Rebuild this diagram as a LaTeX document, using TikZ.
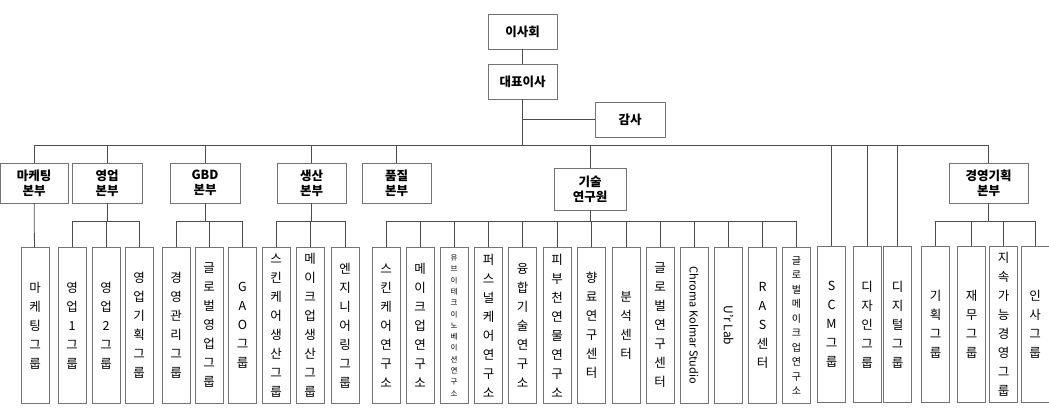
\documentclass[tikz,border=0pt]{standalone}
\usepackage{fontspec}
\setmainfont{Noto Sans CJK KR}
\begin{document}
\begin{tikzpicture}[x=1pt,y=-1pt,
  box/.style={draw=black!55,line width=0.8pt,fill=white,inner sep=0pt,align=center},
  topbox/.style={box,minimum width=69pt,minimum height=35pt,font=\fontsize{12.5}{14}\selectfont\bfseries},
  midbox/.style={box,minimum width=69pt,minimum height=40pt,font=\fontsize{12.5}{15}\selectfont\bfseries},
  leaf/.style={box,anchor=north,minimum width=28pt,minimum height=156pt,font=\fontsize{12.5}{19}\selectfont},
  small/.style={font=\fontsize{7.5}{11.3}\selectfont},
  med/.style={font=\fontsize{10}{14.5}\selectfont},
  con/.style={draw=black!70,line width=0.8pt}]
\useasboundingbox (0,0) rectangle (1049,407);
\node[topbox] (ish) at (522.5,31.5) {이사회};
\node[topbox] (ceo) at (522.5,81.5) {대표이사};
\node[topbox,minimum width=70pt] (aud) at (630,119.5) {감사};
\coordinate (m) at (522.5,145);
\node[midbox,minimum width=68pt] (mkt) at (34,183) {마케팅\\본부};
\node[midbox,minimum width=70pt] (sal) at (107,183) {영업\\본부};
\node[midbox,minimum width=70pt] (gbd) at (205,183) {GBD\\본부};
\node[midbox] (prd) at (311.5,183) {생산\\본부};
\node[midbox] (qual) at (396.5,183) {품질\\본부};
\node[midbox,minimum width=72pt,minimum height=42pt] (rnd) at (590,189) {기술\\연구원};
\node[midbox,minimum width=79pt] (gp) at (988.5,183) {경영기획\\본부};
% leaves
\node[leaf] (l1) at (35,247) {마\\케\\팅\\그\\룹};
\node[leaf] (l2) at (72,247) {영\\업\\1\\그\\룹};
\node[leaf] (l3) at (106,247) {영\\업\\2\\그\\룹};
\node[leaf] (l4) at (139,247) {영\\업\\기\\획\\그\\룹};
\node[leaf] (l5) at (176,247) {경\\영\\관\\리\\그\\룹};
\node[leaf] (l6) at (209,247) {글\\로\\벌\\영\\업\\그\\룹};
\node[leaf] (l7) at (242.5,247) {G\\A\\O\\그\\룹};
\node[leaf] (l8) at (276,247) {스\\킨\\케\\어\\생\\산\\그\\룹};
\node[leaf] (l9) at (310,247) {메\\이\\크\\업\\생\\산\\그\\룹};
\node[leaf] (l10) at (345,247) {엔\\지\\니\\어\\링\\그\\룹};
\node[leaf] (r1) at (386,247) {스\\킨\\케\\어\\연\\구\\소};
\node[leaf] (r2) at (420,247) {메\\이\\크\\업\\연\\구\\소};
\node[leaf,small] (r3) at (454,247) {유\\브\\이\\테\\크\\이\\노\\베\\이\\션\\연\\구\\소};
\node[leaf] (r4) at (488.5,247) {퍼\\스\\널\\케\\어\\연\\구\\소};
\node[leaf] (r5) at (522.5,247) {융\\합\\기\\술\\연\\구\\소};
\node[leaf] (r6) at (557,247) {피\\부\\천\\연\\물\\연\\구\\소};
\node[leaf] (r7) at (591.5,247) {향\\료\\연\\구\\센\\터};
\node[leaf] (r8) at (626,247) {분\\석\\센\\터};
\node[leaf] (r9) at (660,247) {글\\로\\벌\\연\\구\\센\\터};
\node[leaf] (r10) at (694,247) {};
\node[rotate=-90,font=\fontsize{11}{13}\selectfont] at (r10.center) {Chroma Kolmar Studio};
\node[leaf] (r11) at (728.5,247) {};
\node[rotate=-90,font=\fontsize{12}{14}\selectfont] at (r11.center) {U'r Lab};
\node[leaf] (r12) at (762.5,247) {R\\A\\S\\센\\터};
\node[leaf,med] (r13) at (796.5,247) {글\\로\\벌\\메\\이\\크\\업\\연\\구\\소};
\node[leaf] (scm) at (831.5,246) {S\\C\\M\\그\\룹};
\node[leaf] (des) at (867,246) {디\\자\\인\\그\\룹};
\node[leaf] (dig) at (897.5,246) {디\\지\\털\\그\\룹};
\node[leaf] (g1) at (935.5,246) {기\\획\\그\\룹};
\node[leaf] (g2) at (971.5,246) {재\\무\\그\\룹};
\node[leaf] (g3) at (1003.5,246) {지\\속\\가\\능\\경\\영\\그\\룹};
\node[leaf] (g4) at (1035,246) {인\\사\\그\\룹};
% connectors
\draw[con] (ish) -- (ceo);
\draw[con] (ceo) -- (m);
\draw[con] (ceo.south |- aud.west) -- (aud.west);
\draw[con] (mkt.north) -- (mkt.north |- m) -- (gp.north |- m) -- (gp.north);
\foreach \n in {sal,gbd,prd,qual,rnd,scm,des,dig} \draw[con] (\n.north) -- (\n.north |- m);
\draw[con] (mkt) -- (l1);
\coordinate (b) at (0,221);
\draw[con] (sal) -- (sal.south |- b);
\draw[con] (l2.north) -- (l2.north |- b) -- (l4.north |- b) -- (l4.north);
\draw[con] (l3.north) -- (l3.north |- b);
\draw[con] (gbd) -- (gbd.south |- b);
\draw[con] (l5.north) -- (l5.north |- b) -- (l7.north |- b) -- (l7.north);
\draw[con] (l6.north) -- (l6.north |- b);
\draw[con] (prd) -- (prd.south |- b);
\draw[con] (l8.north) -- (l8.north |- b) -- (l10.north |- b) -- (l10.north);
\draw[con] (l9.north) -- (l9.north |- b);
\draw[con] (rnd) -- (rnd.south |- b);
\draw[con] (r1.north) -- (r1.north |- b) -- (r13.north |- b) -- (r13.north);
\foreach \n in {r2,r3,r4,r5,r6,r7,r8,r9,r10,r11,r12} \draw[con] (\n.north) -- (\n.north |- b);
\draw[con] (gp) -- (gp.south |- b);
\draw[con] (g1.north) -- (g1.north |- b) -- (g4.north |- b) -- (g4.north);
\foreach \n in {g2,g3} \draw[con] (\n.north) -- (\n.north |- b);
\end{tikzpicture}
\end{document}
